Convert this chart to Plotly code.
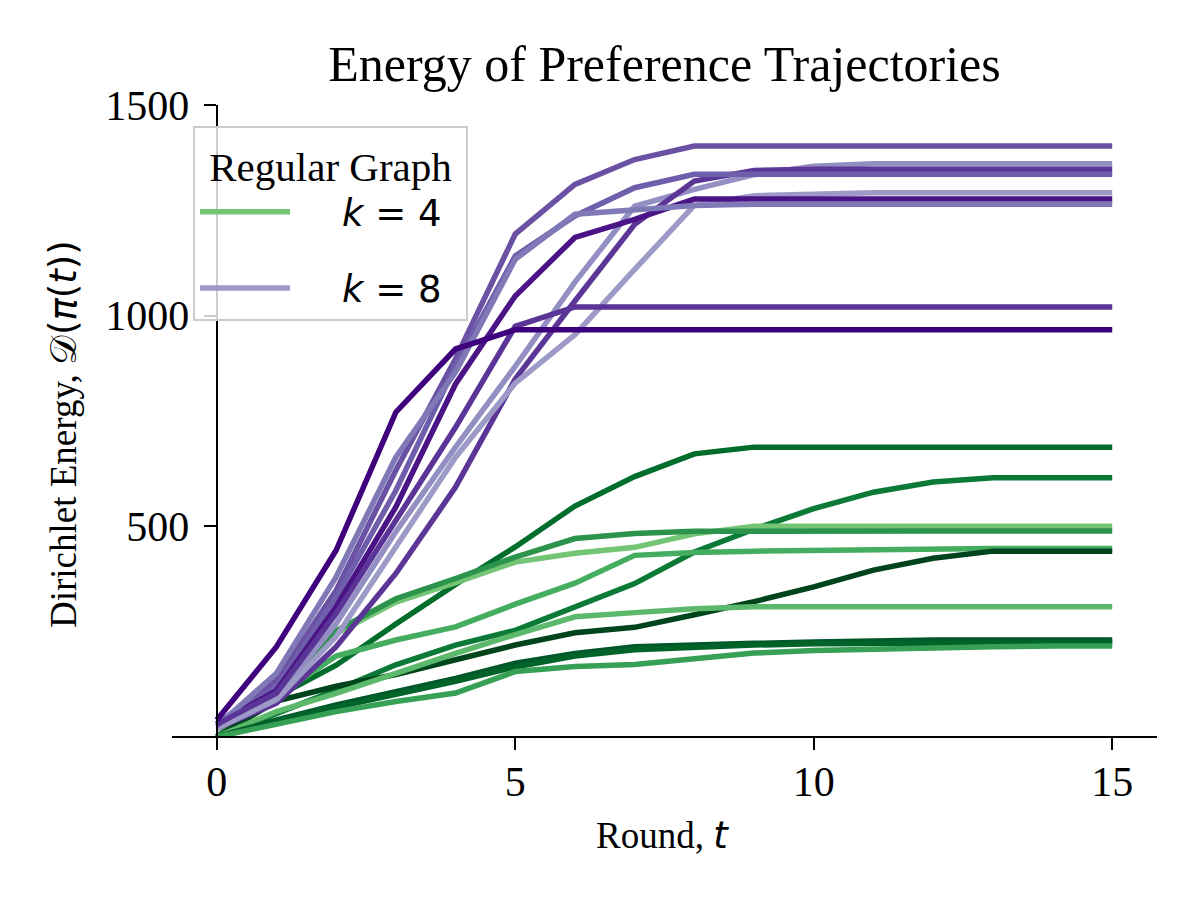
import plotly.graph_objects as go

rounds = list(range(16))

# k = 4 regular graph trajectories (Dirichlet energy per round)
k4_energy = [
    [0, 95, 170, 268, 362, 451, 548, 618, 672, 688, 688, 688, 688, 688, 688, 688],
    [0, 56, 111, 171, 218, 253, 310, 364, 439, 493, 542, 581, 605, 615, 615, 615],
    [0, 110, 245, 320, 366, 415, 436, 450, 482, 500, 500, 500, 500, 500, 500, 500],
    [0, 112, 252, 328, 376, 427, 471, 483, 488, 489, 489, 489, 489, 489, 489, 489],
    [0, 95, 192, 230, 261, 315, 365, 431, 438, 441, 443, 445, 446, 447, 447, 447],
    [0, 85, 120, 148, 183, 218, 247, 260, 290, 321, 356, 396, 424, 441, 441, 441],
    [0, 60, 103, 151, 198, 243, 285, 295, 304, 309, 309, 309, 309, 309, 309, 309],
    [0, 40, 76, 107, 139, 175, 198, 214, 219, 222, 225, 228, 230, 230, 230, 230],
    [0, 38, 70, 100, 132, 166, 192, 207, 214, 218, 221, 222, 223, 224, 224, 224],
    [0, 30, 60, 84, 104, 155, 167, 172, 186, 199, 205, 209, 212, 214, 216, 216],
]
k4_colors = ["#006d2c", "#0b7a37", "#74c476", "#2b934b", "#45ad5f",
             "#00441b", "#5cb96b", "#00582a", "#006329", "#36a055"]

# k = 8 regular graph trajectories
k8_energy = [
    [30, 135, 348, 633, 898, 1194, 1312, 1371, 1403, 1403, 1403, 1403, 1403, 1403, 1403, 1403],
    [25, 95, 269, 487, 688, 880, 1080, 1260, 1300, 1335, 1355, 1361, 1361, 1361, 1361, 1361],
    [20, 80, 214, 388, 593, 850, 1035, 1217, 1320, 1345, 1348, 1348, 1348, 1348, 1348, 1348],
    [30, 119, 332, 585, 881, 1142, 1237, 1304, 1336, 1336, 1336, 1336, 1336, 1336, 1336, 1336],
    [20, 88, 238, 451, 664, 840, 955, 1110, 1262, 1285, 1290, 1292, 1292, 1292, 1292, 1292],
    [30, 110, 309, 546, 838, 1047, 1186, 1229, 1277, 1277, 1277, 1277, 1277, 1277, 1277, 1277],
    [25, 151, 380, 664, 866, 1134, 1241, 1253, 1262, 1265, 1265, 1265, 1265, 1265, 1265, 1265],
    [30, 104, 293, 514, 735, 975, 1021, 1021, 1021, 1021, 1021, 1021, 1021, 1021, 1021, 1021],
    [40, 214, 443, 771, 921, 967, 967, 967, 967, 967, 967, 967, 967, 967, 967, 967],
]
k8_colors = ["#6a51a3", "#948fc3", "#5b3696", "#6f5eab", "#9e9ac8",
             "#4a1486", "#8079b8", "#5a3497", "#3f007d"]

legend_k4 = 2   # index of the trace that carries the k=4 legend entry
legend_k8 = 4   # index of the trace that carries the k=8 legend entry

SERIF = "Liberation Serif, Times New Roman, serif"
MATH = "DejaVu Sans, sans-serif"
LW = 5.5
LPAD = "\u00a0\u00a0\u00a0\u00a0"
RPAD = "\u2002"

fig = go.Figure()
for i, ys in enumerate(k4_energy):
    fig.add_trace(go.Scatter(
        x=rounds, y=ys, mode="lines",
        line=dict(color=k4_colors[i], width=LW),
        name=LPAD + "<i>k</i> = 4" + RPAD, legendgroup="k4",
        showlegend=(i == legend_k4), hoverinfo="skip"))
for i, ys in enumerate(k8_energy):
    fig.add_trace(go.Scatter(
        x=rounds, y=ys, mode="lines",
        line=dict(color=k8_colors[i], width=LW),
        name=LPAD + "<i>k</i> = 8" + RPAD, legendgroup="k8",
        showlegend=(i == legend_k8), hoverinfo="skip"))

W, H = 1200, 900
L, T = 164, 97
R = W - 1149
B = H - 728
pw = W - L - R
ph = H - T - B
x0, x1 = -0.75, 15.75
ypos = (0 - x0) / (x1 - x0)


def px_x(v):
    return (v - L) / pw


def px_y(v):
    return (T + ph - v) / ph


fig.update_layout(
    width=W, height=H,
    margin=dict(l=L, r=R, t=T, b=B, autoexpand=False),
    paper_bgcolor="white", plot_bgcolor="white",
    font=dict(family=SERIF, size=42, color="black"),
    title=dict(text="Energy of Preference Trajectories",
               x=(L + pw / 2) / W, xanchor="center",
               y=1 - 55.5 / H, yanchor="middle", yref="container",
               font=dict(family=SERIF, size=50, color="black")),
    xaxis=dict(range=[x0, x1], tickvals=[0, 5, 10, 15],
               showline=True, linecolor="black", linewidth=2.2,
               ticks="outside", ticklen=12, tickwidth=2.2, tickcolor="black",
               showgrid=False, zeroline=False, anchor="y",
               ticklabelstandoff=-5,
               tickfont=dict(family=SERIF, size=42)),
    yaxis=dict(range=[2, 1500.5], tickvals=[500, 1000, 1500],
               showline=True, linecolor="black", linewidth=2.2,
               ticks="outside", ticklen=12, tickwidth=2.2, tickcolor="black",
               showgrid=False, zeroline=False,
               anchor="free", position=ypos,
               ticklabelstandoff=6,
               tickfont=dict(family=SERIF, size=42)),
    legend=dict(x=px_x(185), y=px_y(118),
                xanchor="left", yanchor="top",
                bgcolor="rgba(255,255,255,0.8)",
                bordercolor="#cccccc", borderwidth=2,
                font=dict(family=MATH, size=37, color="black"),
                title=dict(text="Regular Graph", side="top center",
                           font=dict(family=SERIF, size=41, color="black")),
                itemwidth=90, traceorder="grouped", tracegroupgap=25),
    showlegend=True,
)

fig.add_annotation(
    text="Round, <span style='font-family:DejaVu Sans'><i>t</i></span>",
    xref="paper", yref="paper", x=px_x(654), y=px_y(827),
    xanchor="center", yanchor="middle", showarrow=False,
    font=dict(family=SERIF, size=37, color="black"))

fig.add_annotation(
    text="Dirichlet Energy, <span style='font-family:DejaVu Sans'>𝒟(<i>π</i>(<i>t</i>))</span>",
    xref="paper", yref="paper", x=px_x(55), y=px_y(426),
    xanchor="center", yanchor="middle", showarrow=False, textangle=-90,
    font=dict(family=SERIF, size=37, color="black"))

fig.write_html("out.html")
